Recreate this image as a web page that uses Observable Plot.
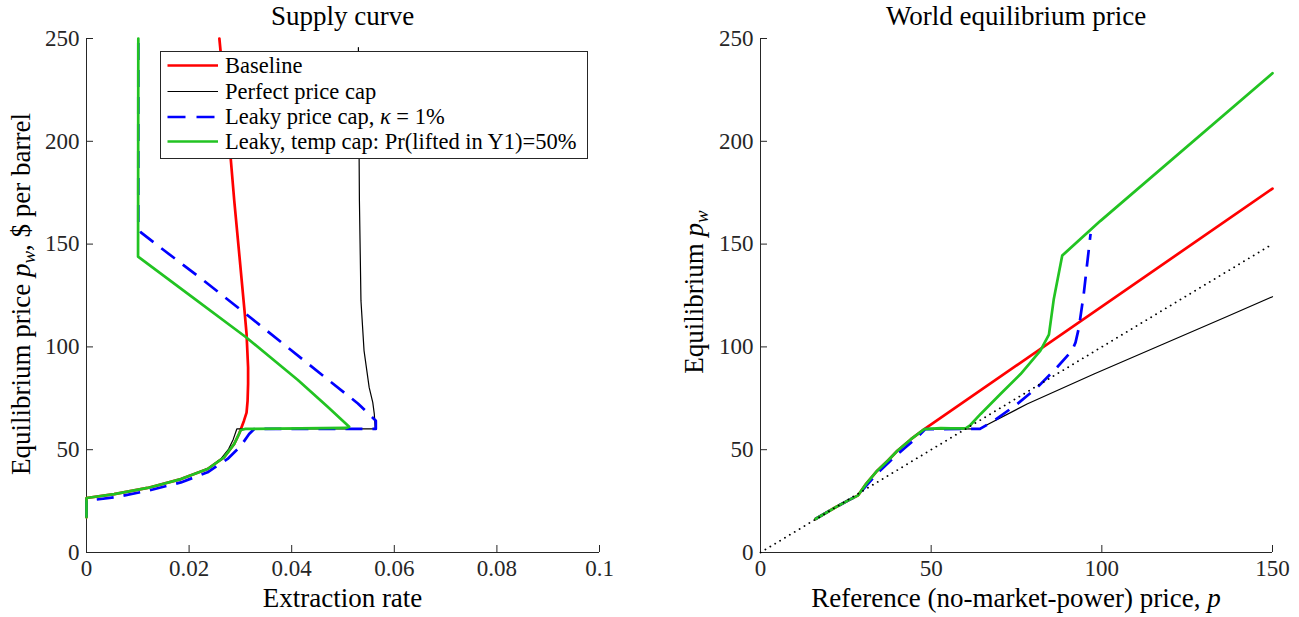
<!DOCTYPE html>
<html>
<head>
<meta charset="utf-8">
<script src="https://cdn.jsdelivr.net/npm/d3@7"></script>
<script src="https://cdn.jsdelivr.net/npm/@observablehq/plot@0.6"></script>
<style>
  body { margin: 0; background: #fff; }
  #wrap { position: relative; width: 1299px; height: 617px; overflow: hidden; background: #fff; font-family: "Liberation Serif", serif; }
  #left, #right { position: absolute; top: 0; }
  #left { left: 0; }
  #right { left: 650px; }
  #legend { position: absolute; left: 159.5px; top: 50.5px; width: 428px; height: 108px; box-sizing: border-box; border: 1px solid #262626; background: #fff; }
  #legend svg { display: block; }
</style>
</head>
<body>
<div id="wrap">
  <div id="left"></div>
  <div id="right"></div>
  <div id="legend"></div>
</div>
<script>
// ---------------- Tick labels ----------------
const supplyTicksX = [0, 0.02, 0.04, 0.06, 0.08, 0.1];
const refTicksX = [0, 50, 100, 150];
const priceTicks = [0, 50, 100, 150, 200, 250];

// ---------------- Series names / colours ----------------
const seriesNames = ["Baseline", "Perfect price cap", "Leaky price cap, κ = 1%", "Leaky, temp cap: Pr(lifted in Y1)=50%"];
const seriesColors = ["#ff0000", "#000000", "#0000ff", "#22c322"];

// ---------------- Left panel: supply curve (extraction rate, price) ----------------
const supBaselineX = [0, 0, 0.0054, 0.0119, 0.0184, 0.0236, 0.0268, 0.0288, 0.0297, 0.0301, 0.0307, 0.0312, 0.0314, 0.0315, 0.0315, 0.0312, 0.0308, 0.0298, 0.0288, 0.0281, 0.0259];
const supBaselineY = [17.1, 26.5, 28.4, 31.4, 35.7, 40.6, 46.3, 52.8, 57.5, 60.1, 64.1, 68, 73.8, 82, 90, 106.3, 117.7, 144.5, 171.2, 192, 250];

const supPerfectX = [0, 0, 0.0054, 0.0119, 0.0184, 0.0236, 0.0262, 0.0277, 0.0286, 0.0293, 0.0563, 0.0561, 0.0558, 0.0551, 0.0541, 0.0535, 0.0532, 0.0530];
const supPerfectY = [17.1, 26.5, 28.4, 31.4, 35.7, 40.8, 45.5, 50.3, 55, 60.1, 60.1, 67.4, 73, 80.3, 98.2, 122.5, 171.2, 245.6];

const supLeakyX = [0, 0, 0.0054, 0.0119, 0.0184, 0.0236, 0.0275, 0.0301, 0.0317, 0.0327, 0.0564, 0.0564, 0.0529, 0.0476, 0.0392, 0.0307, 0.0229, 0.0151, 0.0106, 0.0103, 0.0101, 0.0101];
const supLeakyY = [17.1, 25.2, 26.8, 30.0, 34.1, 39.0, 45.5, 51.9, 57.6, 60.1, 60.1, 64.1, 72.5, 83, 99.8, 116.8, 132.2, 147, 155.7, 157, 158, 250];

const supTempX = [0, 0, 0.0054, 0.0119, 0.0184, 0.0236, 0.0268, 0.0288, 0.0301, 0.0310, 0.0506, 0.0512, 0.0470, 0.0412, 0.0311, 0.0203, 0.01005, 0.0101];
const supTempY = [17.1, 26.5, 28.4, 31.4, 35.7, 40.6, 46.3, 52.8, 59.6, 60.1, 60.6, 61.2, 70.9, 83.9, 104.7, 124.8, 143.9, 250];

// ---------------- Right panel: world equilibrium price (reference price, equilibrium price) ----------------
const eqBaselineX = [16.1, 22, 26, 28.6, 31, 34.2, 37.5, 40.1, 44, 48, 150];
const eqBaselineY = [16.3, 22, 25.6, 27.8, 33.5, 39.8, 45, 49.5, 55, 60, 177];

const eqPerfectX = [16.1, 22, 26, 28.6, 31, 34.2, 37.5, 40.1, 44, 48, 64, 78.1, 97.7, 117.2, 136.7, 150];
const eqPerfectY = [16.3, 22, 25.6, 27.8, 33.5, 39.8, 45, 49.5, 55, 60, 60.1, 72.2, 86.8, 100.8, 114.8, 124.4];

const eqLeakyX = [16.1, 22, 26, 28.6, 31, 34.2, 38, 42, 45.9, 48.3, 64.3, 68.4, 75.2, 81.1, 86.9, 90.8, 91.3, 92.3, 93.3, 94.7, 96.7];
const eqLeakyY = [16.3, 22, 25.6, 27.8, 32.5, 38.5, 44.5, 50.5, 56, 60, 60.1, 64.1, 72.2, 80.3, 90.1, 97.3, 98.2, 102.2, 109.5, 125.8, 155];

const eqTempX = [16.1, 22, 26, 28.6, 31, 34.2, 37.5, 40.1, 44, 48, 52.8, 56, 60.1, 61.5, 64.5, 70.3, 76.2, 82.0, 84.5, 85.9, 88.4, 99.6, 150];
const eqTempY = [16.3, 22, 25.6, 27.8, 33.5, 39.8, 45, 49.5, 55, 60, 60.5, 60.4, 60.4, 62, 67.4, 77.1, 86.8, 98.2, 106, 123, 144.4, 161.3, 233.1];

const eqDiagX = [0, 150];
const eqDiagY = [0, 150];

// ---------------- helpers ----------------
const rows = (xs, ys) => xs.map((x, i) => ({x, y: ys[i]}));
const INK = "#262626";
const FONT = "'Liberation Serif', 'Times New Roman', serif";

function panel({series, extra = [], xDomain, xTicks, xFormat, width, ml, mr}) {
  const marks = [
    Plot.ruleX([xDomain[0]], {stroke: INK, strokeWidth: 1}),
    Plot.ruleY([0], {stroke: INK, strokeWidth: 1}),
    Plot.axisX(xTicks, {tickSize: -7, tickPadding: 14, tickFormat: xFormat, label: null, stroke: INK}),
    Plot.axisY(priceTicks, {tickSize: -7, tickPadding: 14, label: null, stroke: INK}),
  ];
  series.forEach(s => {
    marks.push(Plot.line(rows(s.x, s.y), {
      x: "x", y: "y", stroke: s.color, strokeWidth: s.width,
      strokeDasharray: s.dash || null, strokeLinejoin: "round", strokeLinecap: s.dash ? "butt" : "round"
    }));
  });
  extra.forEach(m => marks.push(m));
  return Plot.plot({
    width, height: 617,
    marginLeft: ml, marginRight: mr, marginTop: 38, marginBottom: 65,
    x: {domain: xDomain},
    y: {domain: [0, 250]},
    style: {fontFamily: FONT, fontSize: "23px", color: INK, background: "transparent", overflow: "visible"},
    marks
  });
}

const W = 2.7, WB = 1.2, DASH = "17,10";

const left = panel({
  width: 650, ml: 86, mr: 51,
  xDomain: [0, 0.1], xTicks: supplyTicksX, xFormat: d => d3.format("~g")(d),
  series: [
    {x: supBaselineX, y: supBaselineY, color: seriesColors[0], width: W},
    {x: supPerfectX, y: supPerfectY, color: seriesColors[1], width: WB},
    {x: supLeakyX, y: supLeakyY, color: seriesColors[2], width: W, dash: DASH},
    {x: supTempX, y: supTempY, color: seriesColors[3], width: W}
  ]
});

const right = panel({
  width: 649, ml: 110, mr: 27,
  xDomain: [0, 150], xTicks: refTicksX, xFormat: d => String(d),
  series: [
    {x: eqBaselineX, y: eqBaselineY, color: seriesColors[0], width: W},
    {x: eqPerfectX, y: eqPerfectY, color: seriesColors[1], width: WB},
    {x: eqLeakyX, y: eqLeakyY, color: seriesColors[2], width: W, dash: DASH},
    {x: eqTempX, y: eqTempY, color: seriesColors[3], width: W}
  ],
  extra: [
    Plot.line(rows(eqDiagX, eqDiagY), {x: "x", y: "y", stroke: "#000", strokeWidth: 1.8, strokeDasharray: "0.1,5.6", strokeLinecap: "round"})
  ]
});

document.getElementById("left").appendChild(left);
document.getElementById("right").appendChild(right);

// ---------------- titles and axis labels ----------------
function addText(svg, {x, y, rotate = 0, html}) {
  const t = d3.select(svg).append("text")
    .attr("transform", `translate(${x},${y}) rotate(${rotate})`)
    .attr("text-anchor", "middle")
    .attr("fill", "#000")
    .attr("font-family", FONT)
    .attr("font-size", 27);
  t.html(html);
  return t;
}
const pw = `<tspan font-style="italic">p</tspan><tspan font-style="italic" font-size="19" dy="5">w</tspan><tspan dy="-5">`;

addText(left, {x: 86 + 513 / 2, y: 25, html: "Supply curve"});
addText(left, {x: 86 + 513 / 2, y: 607, html: "Extraction rate"});
addText(left, {x: 30, y: 294, rotate: -90, html: `Equilibrium price ${pw}, $ per barrel</tspan>`});

addText(right, {x: 110 + 512 / 2, y: 25, html: "World equilibrium price"});
addText(right, {x: 110 + 512 / 2, y: 607, html: `Reference (no-market-power) price, <tspan font-style="italic">p</tspan>`});
addText(right, {x: 52.5, y: 292, rotate: -90, html: `Equilibrium ${pw}</tspan>`});

// ---------------- legend ----------------
const legendSvg = d3.select("#legend").append("svg").attr("width", 426).attr("height", 106);
const rowY = [13.5, 39.5, 65, 89.5];
seriesNames.forEach((name, i) => {
  const dashed = i === 2;
  legendSvg.append("line")
    .attr("x1", 6.5).attr("x2", 57).attr("y1", rowY[i]).attr("y2", rowY[i])
    .attr("stroke", seriesColors[i])
    .attr("stroke-width", i === 1 ? WB : W)
    .attr("stroke-dasharray", dashed ? "18,11" : null);
  const t = legendSvg.append("text")
    .attr("x", 64).attr("y", rowY[i]).attr("dy", "0.33em")
    .attr("font-family", FONT).attr("font-size", 22.5).attr("fill", "#000");
  if (name.includes("κ")) {
    const [a, b] = name.split("κ");
    t.append("tspan").text(a);
    t.append("tspan").attr("font-style", "italic").text("κ");
    t.append("tspan").text(b);
  } else {
    t.text(name);
  }
});
</script>
</body>
</html>
